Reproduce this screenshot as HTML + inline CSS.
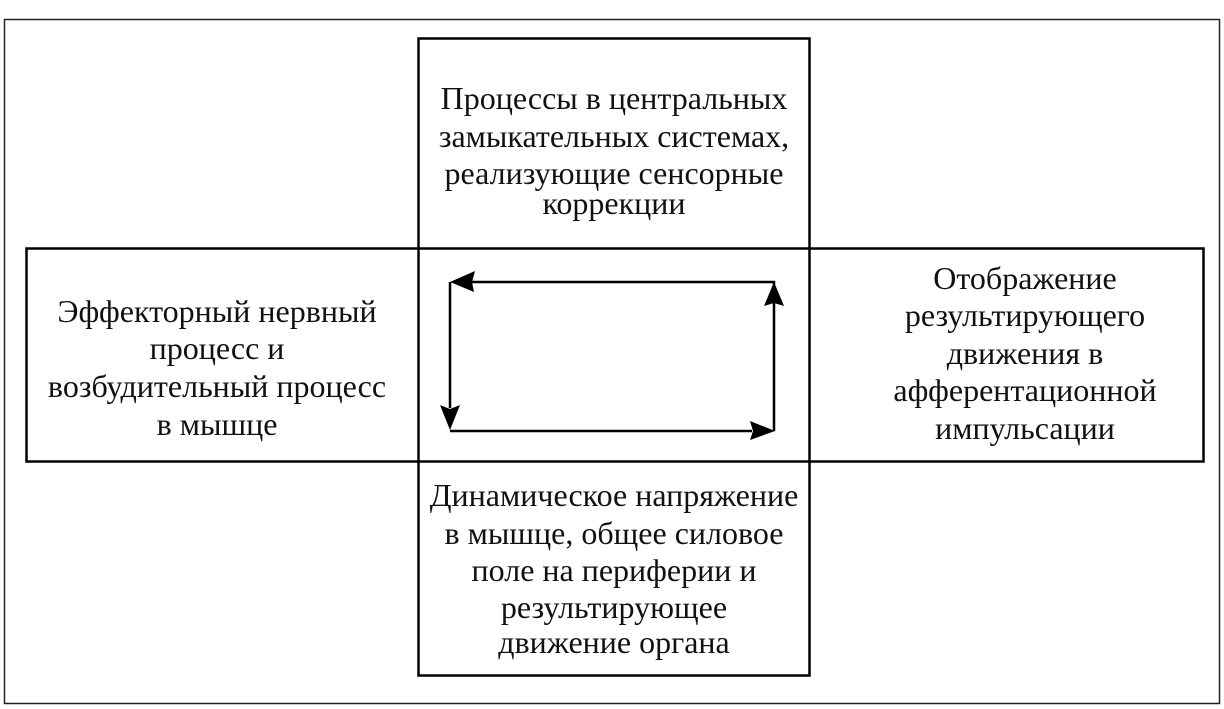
<!DOCTYPE html>
<html><head><meta charset="utf-8"><style>
body{margin:0;background:#fff;}
svg{display:block}
text{font-family:"Liberation Serif",serif;font-size:32px;fill:#111;text-anchor:middle}
</style></head><body>
<svg width="1224" height="709" viewBox="0 0 1224 709">
<rect x="4.5" y="19.5" width="1215" height="684" fill="none" stroke="#222" stroke-width="1.5"/>
<rect x="418.5" y="38.5" width="391" height="637" fill="none" stroke="#000" stroke-width="2.5"/>
<rect x="26.5" y="248.5" width="1177" height="213" fill="none" stroke="#000" stroke-width="2.5"/>
<g stroke="#000" stroke-width="2.5" fill="none">
<path d="M470 282 H774 V305"/>
<path d="M450 282 V408"/>
<path d="M450 431 H752"/>
<path d="M774 431 V305"/>
</g>
<g fill="#000">
<polygon points="450,282 475,271 472,282 474,292"/>
<polygon points="450,430 440,405 450,409 460,405"/>
<polygon points="775,431 750,421 753,431 750,440"/>
<polygon points="774,282 764,306 774,303 784,306"/>
</g>
<text x="614" y="109">Процессы в центральных</text>
<text x="614" y="147">замыкательных системах,</text>
<text x="614" y="184">реализующие сенсорные</text>
<text x="614" y="214">коррекции</text>
<text x="217" y="322">Эффекторный нервный</text>
<text x="217" y="359">процесс и</text>
<text x="217" y="397">возбудительный процесс</text>
<text x="217" y="435">в мышце</text>
<text x="1025" y="289">Отображение</text>
<text x="1025" y="326">результирующего</text>
<text x="1025" y="364">движения в</text>
<text x="1025" y="401">афферентационной</text>
<text x="1025" y="439">импульсации</text>
<text x="614" y="506">Динамическое напряжение</text>
<text x="614" y="544">в мышце, общее силовое</text>
<text x="614" y="581">поле на периферии и</text>
<text x="614" y="618">результирующее</text>
<text x="614" y="653">движение органа</text>
</svg>
</body></html>
